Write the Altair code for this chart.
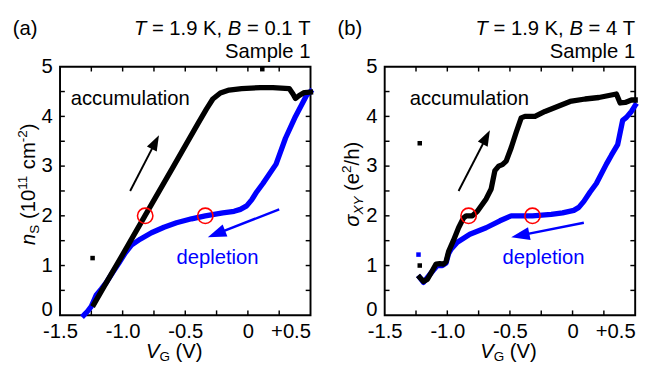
import math
import altair as alt
import pandas as pd

# ---------------- data ----------------
# panel (a): n_S vs V_G at B = 0.1 T
a_acc_v = [-1.23, -1.15, -1.0, -0.82, -0.6, -0.4, -0.33, -0.28, -0.22, -0.15, -0.05, 0.1, 0.2, 0.33, 0.36, 0.38, 0.41, 0.45, 0.5]
a_acc_n = [0.22, 0.57, 1.22, 2.01, 2.97, 3.85, 4.15, 4.35, 4.47, 4.53, 4.56, 4.58, 4.58, 4.56, 4.45, 4.36, 4.42, 4.48, 4.49]
a_dep_v = [0.5, 0.47, 0.38, 0.30, 0.225, 0.12, 0.07, 0.03, -0.01, -0.06, -0.11, -0.2, -0.34, -0.45, -0.57, -0.67, -0.77, -0.86, -0.93, -0.98, -1.03, -1.08, -1.13, -1.17, -1.21, -1.25, -1.28, -1.31]
a_dep_n = [4.5, 4.43, 4.0, 3.56, 3.04, 2.65, 2.48, 2.32, 2.2, 2.13, 2.09, 2.06, 2.0, 1.94, 1.86, 1.77, 1.66, 1.53, 1.41, 1.25, 1.05, 0.86, 0.66, 0.53, 0.41, 0.18, 0.08, 0.0]
a_out_black_v = [0.115, -1.24]
a_out_black_n = [4.95, 1.15]
a_circ_v = [-0.82, -0.34]
a_circ_n = [2.0, 2.0]

# panel (b): sigma_xy vs V_G at B = 4 T
b_acc_v = [-1.22, -1.19, -1.16, -1.13, -1.09, -1.06, -1.03, -1.01, -0.99, -0.95, -0.91, -0.87, -0.85, -0.80, -0.76, -0.69, -0.65, -0.62, -0.59, -0.56, -0.53, -0.49, -0.45, -0.41, -0.38, -0.30, -0.22, -0.12, -0.02, 0.1, 0.21, 0.35, 0.38, 0.42, 0.47, 0.5]
b_acc_s = [0.76, 0.68, 0.72, 0.85, 1.03, 1.04, 1.03, 1.08, 1.28, 1.51, 1.76, 1.96, 2.0, 2.0, 2.09, 2.34, 2.54, 2.91, 3.0, 3.03, 3.1, 3.37, 3.68, 3.97, 4.0, 4.0, 4.1, 4.2, 4.3, 4.35, 4.38, 4.45, 4.27, 4.28, 4.33, 4.33]
b_dep_v = [0.5, 0.47, 0.43, 0.40, 0.36, 0.31, 0.27, 0.19, 0.14, 0.09, 0.05, 0.01, -0.08, -0.17, -0.32, -0.49, -0.58, -0.69, -0.82, -0.92, -0.97, -0.99, -1.01, -1.04, -1.08, -1.13, -1.19, -1.22]
b_dep_s = [4.22, 4.1, 3.98, 3.92, 3.43, 3.22, 3.04, 2.65, 2.48, 2.29, 2.17, 2.11, 2.06, 2.03, 2.0, 2.0, 1.9, 1.76, 1.63, 1.47, 1.33, 1.24, 1.05, 1.0, 1.0, 0.85, 0.66, 0.76]
b_out_black_v = [-1.22, -1.22]
b_out_black_s = [3.46, 1.0]
b_out_blue_v = [-1.23]
b_out_blue_s = [1.22]
b_circ_v = [-0.83, -0.32]
b_circ_s = [2.0, 2.0]

# arrows (tail -> tip) and labels, in data units
a_arrow_black = [(-0.94, 2.5), (-0.71, 3.62)]
a_arrow_blue = [(0.25, 2.13), (-0.32, 1.57)]
b_arrow_black = [(-0.91, 2.5), (-0.66, 3.72)]
b_arrow_blue = [(0.09, 1.86), (-0.49, 1.57)]
a_label_acc = (-1.415, 4.34)
a_label_dep = (-0.57, 1.14)
b_label_acc = (-1.30, 4.34)
b_label_dep = (-0.56, 1.14)

x_ticks_minor = [-1.25, -1.0, -0.75, -0.5, -0.25, 0.0, 0.25]
y_ticks_minor = [0.5, 1.0, 1.5, 2.0, 2.5, 3.0, 3.5, 4.0, 4.5]
x_label_values = [-1.5, -1.0, -0.5, 0.0, 0.5]
y_label_values = [0, 1, 2, 3, 4, 5]

# ---------------- styling ----------------
FONT = "Liberation Sans"
W, H = 260, 258
XDOM = [-1.5, 0.5]
YDOM = [0, 5]
PXX = W / (XDOM[1] - XDOM[0])
PXY = H / (YDOM[1] - YDOM[0])
BLUE = "#0000ff"
TICK_PX = 5

AW = {' ': 278, '(': 333, ')': 333, '+': 584, ',': 278, '-': 333, '.': 278, '/': 278,
      '=': 584, 'B': 667, 'G': 778, 'K': 667, 'S': 667, 'T': 611, 'V': 667, 'X': 667,
      'Y': 667, 'a': 556, 'b': 556, 'c': 500, 'e': 556, 'h': 556, 'l': 222, 'm': 833,
      'n': 556, 'p': 556, 'σ': 600}


def tw(s, size):
    return sum(AW.get(c, 556) for c in s) * size / 1000.0


def rich(pieces, x0, y0, anchor="left", angle=0):
    total = sum(tw(t, sz) for t, sz, st, sh in pieces)
    pos = {"left": 0.0, "right": -total, "center": -total / 2}[anchor]
    layers = []
    for t, sz, st, sh in pieces:
        lead = len(t) - len(t.lstrip(" "))
        core = t.strip(" ")
        p0 = pos + tw(" " * lead, sz)
        if angle == 0:
            px, py = x0 + p0, y0 + sh
        else:
            px, py = x0 + sh, y0 - p0
        if core:
            layers.append(
                alt.Chart(pd.DataFrame({"d": [0]}))
                .mark_text(font=FONT, fontSize=sz, fontStyle=st, align="left",
                           baseline="alphabetic", angle=angle, color="black")
                .encode(x=alt.value(px), y=alt.value(py), text=alt.value(core))
            )
        pos += tw(t, sz)
    return layers


X = lambda f: alt.X(f, type="quantitative", scale=alt.Scale(domain=XDOM, nice=False, zero=False))
Y = lambda f: alt.Y(f, type="quantitative", scale=alt.Scale(domain=YDOM, nice=False, zero=False))


def curve(v, y, color):
    df = pd.DataFrame({"v": v, "y": y, "i": range(len(v))})
    return alt.Chart(df).mark_line(color=color, strokeWidth=5.5, strokeJoin="round",
                                   strokeCap="square").encode(
        x=X("v"), y=Y("y"), order="i:Q")


def squares(v, y, color):
    df = pd.DataFrame({"v": v, "y": y})
    return alt.Chart(df).mark_square(color=color, size=22, opacity=1).encode(x=X("v"), y=Y("y"))


def circles(v, y):
    df = pd.DataFrame({"v": v, "y": y})
    return alt.Chart(df).mark_point(shape="circle", filled=False, color="#ff0000",
                                    strokeWidth=1.6, size=256, opacity=1).encode(x=X("v"), y=Y("y"))


HEAD = "M0,-1L0.62,0.75L-0.62,0.75Z"


def arrow(tail, tip, color, head_size, width):
    dxp = (tip[0] - tail[0]) * PXX
    dyp = (tip[1] - tail[1]) * PXY
    L = math.hypot(dxp, dyp)
    ux, uy = dxp / L, dyp / L
    back = math.sqrt(head_size) / 2.0
    cx = tip[0] - ux * back / PXX
    cy = tip[1] - uy * back / PXY
    ang = math.degrees(math.atan2(dxp, dyp)) % 360
    shaft = alt.Chart(pd.DataFrame({"v": [tail[0]], "y": [tail[1]], "v2": [cx], "y2": [cy]})).mark_rule(
        color=color, strokeWidth=width).encode(x=X("v"), y=Y("y"), x2="v2", y2="y2")
    head = alt.Chart(pd.DataFrame({"v": [cx], "y": [cy]})).mark_point(
        shape=HEAD, filled=True, color=color, size=head_size, angle=ang, opacity=1).encode(x=X("v"), y=Y("y"))
    return [shaft, head]


def label(pos, text, color):
    df = pd.DataFrame({"v": [pos[0]], "y": [pos[1]], "t": [text]})
    return alt.Chart(df).mark_text(font=FONT, fontSize=21, align="left", baseline="middle",
                                   color=color).encode(x=X("v"), y=Y("y"), text="t:N")


def ticks():
    tx = TICK_PX / PXY
    ty = TICK_PX / PXX
    bx = pd.DataFrame({"v": x_ticks_minor})
    by = pd.DataFrame({"y": y_ticks_minor})
    out = []
    for y0, y1 in [(YDOM[0], YDOM[0] + tx), (YDOM[1], YDOM[1] - tx)]:
        out.append(alt.Chart(bx).transform_calculate(a=str(y0), b=str(y1)).mark_rule(
            color="black", strokeWidth=1.5).encode(x=X("v"), y=Y("a"), y2="b:Q"))
    for x0, x1 in [(XDOM[0], XDOM[0] + ty), (XDOM[1], XDOM[1] - ty)]:
        out.append(alt.Chart(by).transform_calculate(a=str(x0), b=str(x1)).mark_rule(
            color="black", strokeWidth=1.5).encode(y=Y("y"), x=X("a"), x2="b:Q"))
    return out


x_axis = alt.Axis(values=x_label_values, ticks=False, domain=False, grid=False, title=None,
                  labelExpr="datum.value == 0 ? '0' : (datum.value > 0 ? '+0.5' : '-' + format(-datum.value, '.1f'))",
                  labelPadding=6, labelFontSize=21, labelFont=FONT, labelColor="black",
                  labelAlign={"condition": {"test": "datum.value > 0.4", "value": "right"}, "value": "center"},
                  labelFlush=False, labelOverlap=False)
y_axis = alt.Axis(values=y_label_values, ticks=False, domain=False, grid=False, title=None,
                  format="d", labelPadding=8, labelFontSize=21, labelFont=FONT, labelColor="black",
                  labelFlush=False, labelOverlap=False,
                  labelBaseline={"condition": {"test": "datum.value == 0", "value": "alphabetic"},
                                 "value": "middle"})


def axes_layer():
    df = pd.DataFrame({"v": [XDOM[0]], "y": [YDOM[0]]})
    return alt.Chart(df).mark_point(opacity=0).encode(
        x=alt.X("v:Q", scale=alt.Scale(domain=XDOM, nice=False, zero=False), axis=x_axis),
        y=alt.Y("y:Q", scale=alt.Scale(domain=YDOM, nice=False, zero=False), axis=y_axis))


def panel(letter, bfield, acc, dep, outs, circ, arrows, labels, ytitle, xcenter):
    layers = [axes_layer()] + ticks()
    layers.append(curve(dep[0], dep[1], BLUE))
    layers.append(curve(acc[0], acc[1], "black"))
    for v, y, c in outs:
        layers.append(squares(v, y, c))
    layers.append(circles(*circ))
    for tail, tip, c, hs, wdt in arrows:
        layers += arrow(tail, tip, c, hs, wdt)
    for pos, t, c in labels:
        layers.append(label(pos, t, c))
    layers += rich([("(" + letter + ")", 21, "normal", 0)], -49, -32.5)
    layers += rich([("T", 21, "italic", 0), (" = 1.9 K, ", 21, "normal", 0), ("B", 21, "italic", 0),
                    (" = " + bfield + " ", 21, "normal", 0), ("T", 21, "normal", 0)], W, -32.5, "right")
    layers += rich([("Sample 1", 21, "normal", 0)], W, -9, "right")
    layers += rich(ytitle[0], ytitle[1], 122, "center", 270)
    layers += rich([("V", 21, "italic", 0), ("G", 14, "normal", 4), (" (V)", 21, "normal", 0)],
                   xcenter, 302, "center")
    return alt.layer(*layers).properties(width=W, height=H)


pa = panel("a", "0.1", (a_acc_v, a_acc_n), (a_dep_v, a_dep_n),
           [(a_out_black_v, a_out_black_n, "black")], (a_circ_v, a_circ_n),
           [(a_arrow_black[0], a_arrow_black[1], "black", 340, 2),
            (a_arrow_blue[0], a_arrow_blue[1], BLUE, 480, 2.5)],
           [(a_label_acc, "accumulation", "black"), (a_label_dep, "depletion", BLUE)],
           ([("n", 21, "italic", 0), ("S", 14, "normal", 4), (" (10", 21, "normal", 0),
             ("11", 14, "normal", -8), (" cm", 21, "normal", 0), ("-2", 14, "normal", -8),
             (")", 21, "normal", 0)], -26), 118.5)

pb = panel("b", "4", (b_acc_v, b_acc_s), (b_dep_v, b_dep_s),
           [(b_out_black_v, b_out_black_s, "black"), (b_out_blue_v, b_out_blue_s, BLUE)],
           (b_circ_v, b_circ_s),
           [(b_arrow_black[0], b_arrow_black[1], "black", 340, 2),
            (b_arrow_blue[0], b_arrow_blue[1], BLUE, 480, 2.5)],
           [(b_label_acc, "accumulation", "black"), (b_label_dep, "depletion", BLUE)],
           ([("σ", 21, "italic", 0), ("XY", 14, "italic", 4), (" (e", 21, "normal", 0),
             ("2", 14, "normal", -8), ("/h)", 21, "normal", 0)], -27), 128.5)

chart = alt.hconcat(pa, pb, spacing=22).properties(
    padding={"left": 4, "top": 3, "right": 0, "bottom": 0}
).configure(background="white").configure_view(stroke="black", strokeWidth=2)

chart.save("out.html", embed_options={"renderer": "svg", "actions": False})
